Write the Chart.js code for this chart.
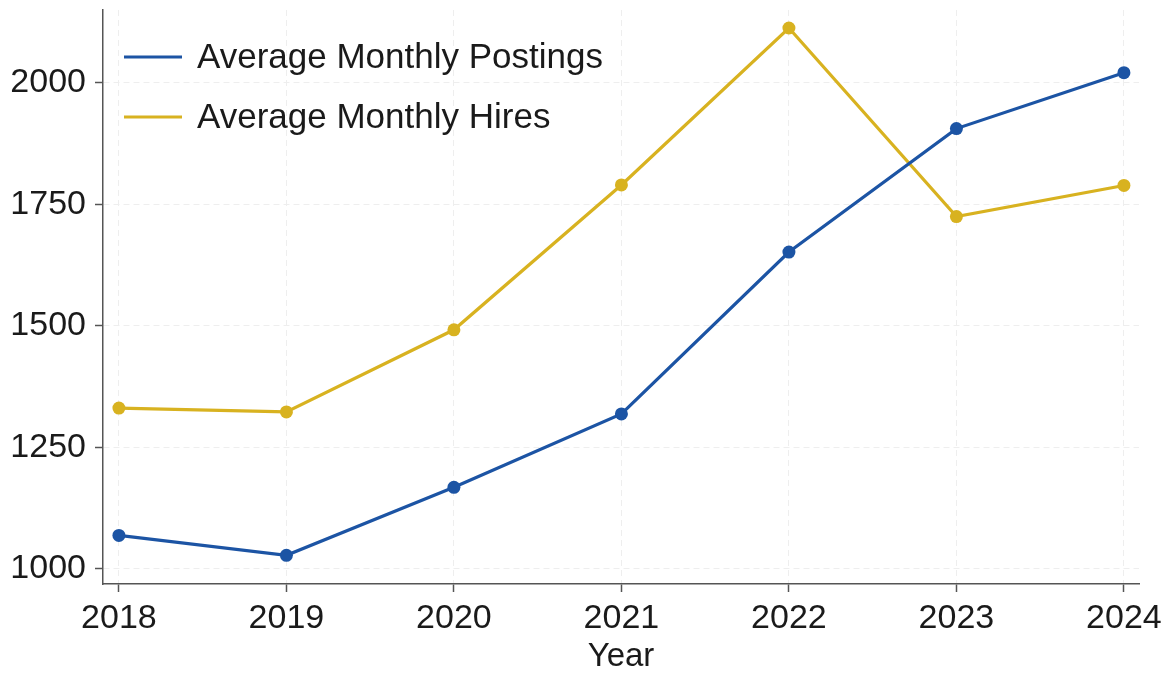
<!DOCTYPE html>
<html>
<head>
<meta charset="UTF-8">
<title>postings_hires.html</title>
<script src="https://cdn.jsdelivr.net/npm/chart.js"></script>
<style>
  html, body {
    margin: 0;
    padding: 0;
    background: #fff;
  }
  .chart-container {
    width: 1167px;
    height: 677px;
  }
</style>
</head>

<body>
<div class="chart-container">
  <canvas id="lineChart"></canvas>
</div>

<script>
    // データ
    const years = [2018, 2019, 2020, 2021, 2022, 2023, 2024];
    const postings = [1069, 1028, 1168, 1319, 1652, 1906, 2021];
    const hires = [1331, 1323, 1492, 1790, 2113, 1725, 1789];
    const seriesNames = ['Average Monthly Postings', 'Average Monthly Hires'];
    const yTicks = [1000, 1250, 1500, 1750, 2000];

    const blue = '#1c54a4';
    const gold = '#d8b220';
    const fontFamily = '"Liberation Sans", Arial, Helvetica, sans-serif';

    // 凡例（プロット内の左上に描く）
    const insideLegend = {
        id: 'insideLegend',
        afterDraw(chart) {
            const ctx = chart.ctx;
            ctx.save();
            ctx.font = '35px ' + fontFamily;
            ctx.textBaseline = 'middle';
            chart.data.datasets.forEach(function (ds, i) {
                const y = 57 + i * 60;
                ctx.strokeStyle = ds.borderColor;
                ctx.lineWidth = 3;
                ctx.beginPath();
                ctx.moveTo(124, y);
                ctx.lineTo(182, y);
                ctx.stroke();
                ctx.fillStyle = '#1a1a1a';
                ctx.fillText(ds.label, 197, y + 1);
            });
            ctx.restore();
        }
    };

    const config = {
        type: 'line',
        data: {
            datasets: [
                {
                    label: seriesNames[0],
                    data: years.map((y, i) => ({ x: y, y: postings[i] })),
                    borderColor: blue,
                    backgroundColor: blue,
                    borderWidth: 3.2,
                    pointRadius: 6.5,
                    pointBorderWidth: 0,
                    tension: 0
                },
                {
                    label: seriesNames[1],
                    data: years.map((y, i) => ({ x: y, y: hires[i] })),
                    borderColor: gold,
                    backgroundColor: gold,
                    borderWidth: 3.2,
                    pointRadius: 6.5,
                    pointBorderWidth: 0,
                    tension: 0
                }
            ]
        },
        options: {
            responsive: true,
            maintainAspectRatio: false,
            animation: false,
            layout: {
                padding: { top: 10, right: 28, left: 0, bottom: 0 }
            },
            plugins: {
                legend: { display: false },
                tooltip: { enabled: false }
            },
            scales: {
                x: {
                    type: 'linear',
                    min: 2017.905,
                    max: 2024.09,
                    afterBuildTicks: function (scale) {
                        scale.ticks = years.map(v => ({ value: v }));
                    },
                    afterFit: function (scale) {
                        scale.height = 93;
                        scale.paddingLeft = 0;
                        scale.paddingRight = 0;
                    },
                    ticks: {
                        color: '#1a1a1a',
                        font: { family: fontFamily, size: 34 },
                        padding: 6,
                        maxRotation: 0,
                        callback: v => String(v)
                    },
                    grid: {
                        color: '#eeeeee',
                        lineWidth: 1,
                        tickLength: 8,
                        tickColor: '#555',
                        tickWidth: 1.5,
                        tickBorderDash: []
                    },
                    border: {
                        color: '#555',
                        width: 1.5,
                        dash: [6, 4]
                    },
                    title: {
                        display: true,
                        text: 'Year',
                        color: '#1a1a1a',
                        font: { family: fontFamily, size: 33 },
                        padding: { top: 0, bottom: 0 }
                    }
                },
                y: {
                    min: 969,
                    max: 2150,
                    afterBuildTicks: function (scale) {
                        scale.ticks = yTicks.map(v => ({ value: v }));
                    },
                    afterFit: function (scale) {
                        scale.width = 103;
                        scale.paddingTop = 0;
                        scale.paddingBottom = 0;
                    },
                    ticks: {
                        color: '#1a1a1a',
                        font: { family: fontFamily, size: 34 },
                        padding: 9,
                        callback: v => String(v)
                    },
                    grid: {
                        color: '#eeeeee',
                        lineWidth: 1,
                        tickLength: 8,
                        tickColor: '#555',
                        tickWidth: 1.5,
                        tickBorderDash: []
                    },
                    border: {
                        color: '#555',
                        width: 1.5,
                        dash: [6, 4]
                    }
                }
            }
        },
        plugins: [insideLegend]
    };

    const ctx = document.getElementById('lineChart').getContext('2d');
    new Chart(ctx, config);
</script>
</body>
</html>
